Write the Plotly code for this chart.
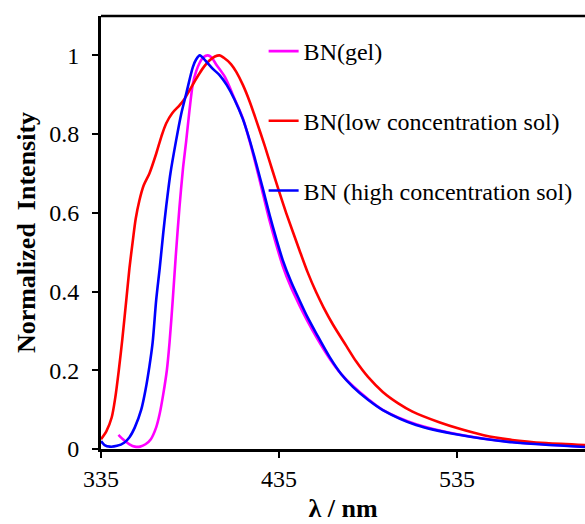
import plotly.graph_objects as go

# ---- data ----
gel_x = [344.8, 348, 351, 354, 357, 360, 363, 366, 368, 370, 372, 373.5, 375.3, 377, 379.1, 381,
         382.9, 384.7, 386.6, 388.5, 390.3, 392.5, 395, 397, 400, 404.6, 410, 414.7, 418.5,
         422.2, 426, 429.7, 433.4, 437.1, 441.8, 446.5, 451, 455.9, 463.4, 470, 476.5, 485,
         493, 512, 536, 566, 607]
gel_y = [0.036, 0.022, 0.012, 0.006, 0.006, 0.012, 0.025, 0.055, 0.09, 0.14, 0.2, 0.27, 0.378,
         0.49, 0.615, 0.71, 0.784, 0.86, 0.928, 0.96, 0.98, 0.995, 1.0, 0.995, 0.975, 0.945,
         0.89, 0.84, 0.782, 0.718, 0.648, 0.58, 0.52, 0.465, 0.41, 0.365, 0.325, 0.285, 0.23,
         0.19, 0.16, 0.127, 0.1, 0.063, 0.037, 0.018, 0.006]

low_x = [335, 338, 341, 343, 345, 347, 349.2, 351, 352.9, 354.5, 356.6, 359, 362.2, 366, 369,
         371.6, 375, 379.1, 382, 384.7, 387.5, 390.3, 393, 395.9, 399, 401.6, 404, 408, 411,
         414.7, 418.5, 422.2, 427, 431.5, 435, 439, 446.5, 451, 455.9, 460, 465.2, 472.8, 478.4,
         485, 493.3, 502, 510, 525, 536, 550, 566, 585, 607]
low_y = [0.025, 0.045, 0.08, 0.13, 0.2, 0.28, 0.378, 0.46, 0.53, 0.585, 0.632, 0.67, 0.70, 0.75,
         0.795, 0.827, 0.853, 0.873, 0.89, 0.911, 0.933, 0.954, 0.972, 0.987, 0.997, 1.0, 0.994,
         0.978, 0.958, 0.925, 0.883, 0.835, 0.77, 0.705, 0.655, 0.6, 0.505, 0.45, 0.398,
         0.36, 0.317, 0.262, 0.222, 0.183, 0.145, 0.116, 0.095, 0.068, 0.052, 0.035, 0.023,
         0.015, 0.01]

high_x = [335, 337, 340, 344, 348, 351, 354, 357.6, 360, 362.2, 364, 366, 368, 370, 371.6, 374,
          377.2, 380, 382.9, 386.6, 388.5, 390.5, 394, 398, 401.6, 405.6, 410, 414.7, 418.5,
          422.2, 426, 429.7, 433.4, 437.1, 441.8, 446.5, 451, 455.9, 463.4, 470, 476.5, 485,
          493.3, 512, 536, 566, 607]
high_y = [0.02, 0.01, 0.006, 0.008, 0.016, 0.03, 0.055, 0.1, 0.15, 0.21, 0.27, 0.378, 0.46, 0.55,
          0.615, 0.70, 0.784, 0.85, 0.903, 0.97, 0.99, 1.0, 0.985, 0.965, 0.95, 0.925, 0.888,
          0.838, 0.785, 0.725, 0.66, 0.595, 0.535, 0.48, 0.425, 0.378, 0.335, 0.294, 0.234,
          0.19, 0.158, 0.125, 0.099, 0.061, 0.036, 0.017, 0.005]

names = ["BN(gel)", "BN(low concentration sol)", "BN (high concentration sol)"]
colors = ["#FF00FF", "#FF0000", "#0000FF"]
x_ticks = [335, 435, 535]
y_ticks = [0, 0.2, 0.4, 0.6, 0.8, 1]
y_tick_text = ["0", "0.2", "0.4", "0.6", "0.8", "1"]

FONT = "Liberation Serif, Times New Roman, serif"

fig = go.Figure()
for i, (xs, ys) in enumerate([(gel_x, gel_y), (low_x, low_y), (high_x, high_y)]):
    fig.add_trace(go.Scatter(
        x=xs, y=ys, mode="lines", name=names[i], legendgroup=f"g{i}",
        line=dict(color=colors[i], width=2.6, shape="spline", smoothing=0.8),
    ))

fig.update_layout(
    width=585, height=524,
    margin=dict(l=101, r=0, t=16, b=75),
    plot_bgcolor="white", paper_bgcolor="white",
    font=dict(family=FONT, size=24, color="black"),
    showlegend=True,
    legend=dict(x=0.336, y=0.97, xanchor="left", yanchor="top",
                bgcolor="rgba(0,0,0,0)", font=dict(family=FONT, size=24, color="black"),
                tracegroupgap=35.5, itemwidth=30),
    xaxis=dict(range=[335, 335 + 484 / 1.78], tickmode="array", tickvals=x_ticks,
               ticktext=[str(v) for v in x_ticks],
               showline=True, linewidth=3, linecolor="black",
               ticks="outside", ticklen=6, tickwidth=2, tickcolor="black",
               showgrid=False, zeroline=False,
               tickfont=dict(family=FONT, size=24),
               title=dict(text="<b>λ / nm</b>", font=dict(family=FONT, size=26), standoff=9)),
    yaxis=dict(range=[0, 1.1], tickmode="array", tickvals=y_ticks, ticktext=y_tick_text,
               showline=True, linewidth=3, linecolor="black",
               ticks="outside", ticklen=6, tickwidth=2, tickcolor="black",
               showgrid=False, zeroline=False, ticklabelstandoff=8,
               tickfont=dict(family=FONT, size=24),
               title=dict(text="<b>Normalized\u00a0 Intensity</b>",
                          font=dict(family=FONT, size=26), standoff=7)),
    shapes=[dict(type="line", xref="paper", yref="paper", x0=0, x1=1, y0=1, y1=1,
                 line=dict(color="black", width=2.5))],
)

fig.write_html("out.html")
